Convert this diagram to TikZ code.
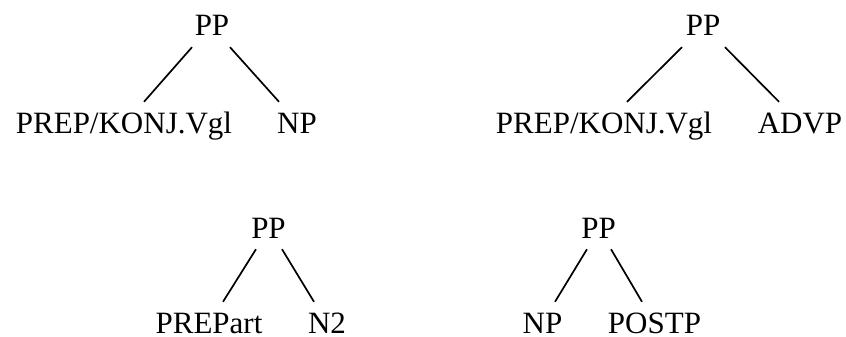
\documentclass[tikz,border=0pt]{standalone}
\usepackage{fontspec}
\setmainfont{Liberation Serif}
\usepackage{tikz}

\begin{document}
\begin{tikzpicture}[x=1pt, y=-1pt,
  cat/.style={anchor=base, inner xsep=0pt, inner ysep=11pt,
    text height=20pt, text depth=0pt, font=\fontsize{31}{37}\selectfont},
  branch/.style={line width=1.7pt, black}
]
\useasboundingbox (0,0) rectangle (846,337);

% PP -> PREP/KONJ.Vgl NP
\node[cat] (pp1) at (212,36) {PP};
\node[cat] (prep1) at (124,133) {PREP/KONJ.Vgl};
\node[cat] (np1) at (297,133) {NP};
\draw[branch] ([xshift=-20pt]pp1.south) -- ([xshift=20pt]prep1.north);
\draw[branch] ([xshift=18pt]pp1.south) -- ([xshift=-18pt]np1.north);

% PP -> PREP/KONJ.Vgl ADVP
\node[cat] (pp2) at (703,36) {PP};
\node[cat] (prep2) at (604,133) {PREP/KONJ.Vgl};
\node[cat] (advp2) at (800,133) {ADVP};
\draw[branch] ([xshift=-21pt]pp2.south) -- ([xshift=23pt]prep2.north);
\draw[branch] ([xshift=22pt]pp2.south) -- ([xshift=-21pt]advp2.north);

% PP -> PREPart N2
\node[cat] (pp3) at (268.5,238) {PP};
\node[cat] (prepart3) at (209,333) {PREPart};
\node[cat] (n3) at (327,333) {N2};
\draw[branch] ([xshift=-12.5pt]pp3.south) -- ([xshift=14pt]prepart3.north);
\draw[branch] ([xshift=13.5pt]pp3.south) -- ([xshift=-13pt]n3.north);

% PP -> NP POSTP
\node[cat] (pp4) at (598.5,238) {PP};
\node[cat] (np4) at (542.5,333) {NP};
\node[cat] (postp4) at (654.5,333) {POSTP};
\draw[branch] ([xshift=-11.5pt]pp4.south) -- ([xshift=12.5pt]np4.north);
\draw[branch] ([xshift=12.5pt]pp4.south) -- ([xshift=-12.5pt]postp4.north);
\end{tikzpicture}
\end{document}
